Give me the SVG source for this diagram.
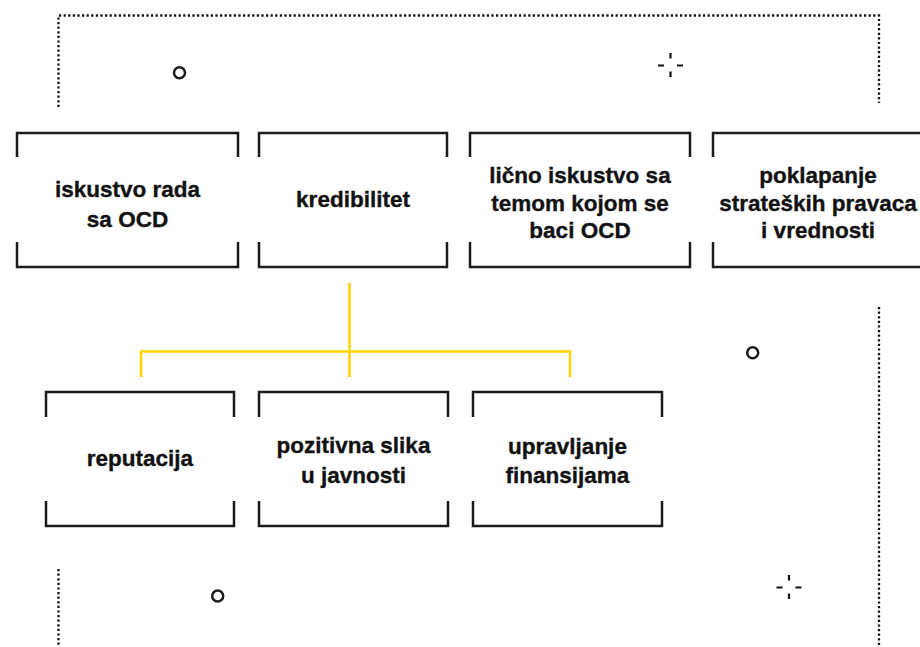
<svg xmlns="http://www.w3.org/2000/svg" width="920" height="647" viewBox="0 0 920 647">
<style>
.box{fill:none;stroke:#1a1a1a;stroke-width:2.5}
.lbl{font-family:"Liberation Sans",Arial,sans-serif;font-weight:bold;font-size:22.5px;fill:#111;stroke:#111;stroke-width:0.35;text-anchor:middle}
.dot{fill:none;stroke:#111;stroke-width:2.3;stroke-dasharray:2.2 2.4}
.ring{fill:none;stroke:#1a1a1a;stroke-width:2.5}
.tick{stroke:#111;stroke-width:2.2}
.con{fill:none;stroke:#FFD500;stroke-width:2.5}
</style>
<rect width="920" height="647" fill="#fff"/>
<g id="decor">
<path class="dot" d="M58.5 107 V15.5 H879 V103"/>
<path class="dot" d="M58.5 569 V647"/>
<path class="dot" d="M879 307 V647"/>
<circle class="ring" cx="179.5" cy="72.7" r="5.5"/>
<circle class="ring" cx="217.7" cy="596" r="5.5"/>
<circle class="ring" cx="752.7" cy="352.7" r="5.5"/>
<path class="tick" d="M670.5 53 V58.5 M670.5 71.5 V77 M658 65.5 H664 M677 65.5 H683"/>
<path class="tick" d="M789 575 V580.5 M789 593.5 V599 M776.5 587.5 H782.5 M795.5 587.5 H801.5"/>
</g>
<g id="connectors">
<path class="con" d="M349.5 283 V377"/>
<path class="con" d="M141 377 V351.5 H570 V377"/>
</g>
<g id="n1">
<path class="box" d="M17 157 V133 H238 V157 M17 242 V267 H238 V242"/>
<text class="lbl" x="127.5" y="197.3">iskustvo rada</text>
<text class="lbl" x="127.5" y="226.7">sa OCD</text>
</g>
<g id="n2">
<path class="box" d="M259 157 V133 H447 V157 M259 242 V267 H447 V242"/>
<text class="lbl" x="353" y="207.3">kredibilitet</text>
</g>
<g id="n3">
<path class="box" d="M470 157 V133 H690 V157 M470 242 V267 H690 V242"/>
<text class="lbl" x="580" y="183">lično iskustvo sa</text>
<text class="lbl" x="580" y="210.5">temom kojom se</text>
<text class="lbl" x="580" y="238">baci OCD</text>
</g>
<g id="n4">
<path class="box" d="M713 157 V133 H925 V157 M713 242 V267 H925 V242"/>
<text class="lbl" x="818" y="183">poklapanje</text>
<text class="lbl" x="818" y="210.5">strateških pravaca</text>
<text class="lbl" x="818" y="238">i vrednosti</text>
</g>
<g id="n5">
<path class="box" d="M46 417 V392 H234 V417 M46 501 V526 H234 V501"/>
<text class="lbl" x="140" y="465.7">reputacija</text>
</g>
<g id="n6">
<path class="box" d="M259 417 V392 H448 V417 M259 501 V526 H448 V501"/>
<text class="lbl" x="353.5" y="453.3">pozitivna slika</text>
<text class="lbl" x="353.5" y="482.7">u javnosti</text>
</g>
<g id="n7">
<path class="box" d="M473 417 V392 H662 V417 M473 501 V526 H662 V501"/>
<text class="lbl" x="567.5" y="454">upravljanje</text>
<text class="lbl" x="567.5" y="482.7">finansijama</text>
</g>
</svg>
